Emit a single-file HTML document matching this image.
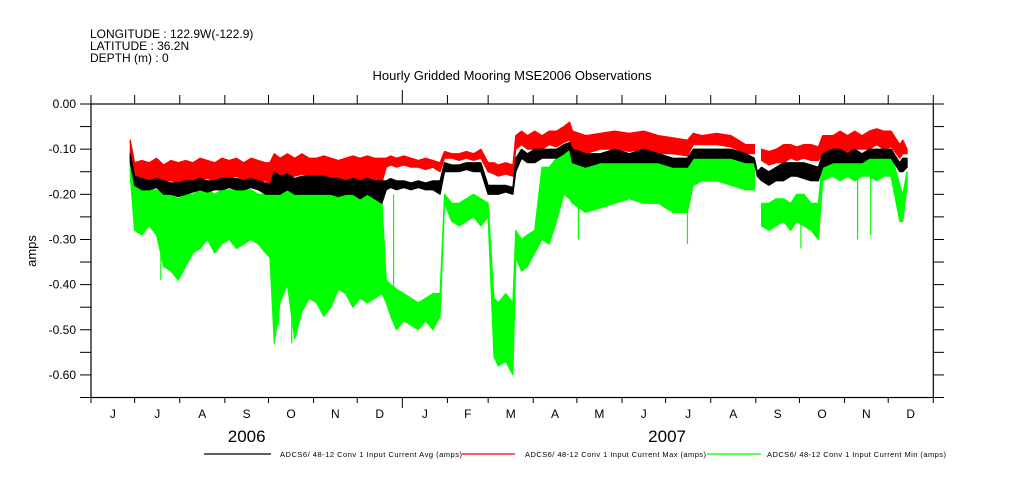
<!DOCTYPE html>
<html><head><meta charset="utf-8"><style>
html,body{margin:0;padding:0;background:#fff;}
svg{display:block;font-family:"Liberation Sans",sans-serif;}
</style></head><body>
<svg id="chart" width="1009" height="504" viewBox="0 0 1009 504" xmlns="http://www.w3.org/2000/svg">
<rect width="1009" height="504" fill="#fff"/>
<g font-size="12" fill="#000">
<text x="90" y="38">LONGITUDE : 122.9W(-122.9)</text>
<text x="90" y="50">LATITUDE : 36.2N</text>
<text x="90" y="62">DEPTH (m) : 0</text>
</g>
<text x="512" y="80" font-size="13" text-anchor="middle">Hourly Gridded Mooring MSE2006 Observations</text>
<text x="36" y="251" font-size="13" text-anchor="middle" transform="rotate(-90 36 251)">amps</text>
<g id="plot"></g>
<g id="axes"></g>
<g font-size="7.5">
<line x1="204" y1="454" x2="271" y2="454" stroke="#000" stroke-width="1.3"/>
<text x="280" y="457" textLength="182">ADCS6/ 48-12 Conv 1 Input Current Avg (amps)</text>
<line x1="462" y1="454" x2="515" y2="454" stroke="#f00" stroke-width="1.3"/>
<text x="525" y="457" textLength="181">ADCS6/ 48-12 Conv 1 Input Current Max (amps)</text>
<line x1="707" y1="454" x2="761" y2="454" stroke="#0f0" stroke-width="1.3"/>
<text x="767" y="457" textLength="179">ADCS6/ 48-12 Conv 1 Input Current Min (amps)</text>
</g>
</svg>
<script>
const days=[27,30,35,40,45,50,55,60,65,70,75,80,85,90,95,100,105,110,115,120,123,126,130,135,140,145,150,155,160,165,170,175,180,185,190,195,200,203,206,210,215,220,225,230,235,240,243,248,253,258,263,268,273,277,280,285,290,292,296,300,305,310,315,320,325,329,331,340,350,360,370,380,390,400,410,414,420,430,440,450,456,458,461,466,471,476,481,485,490,495,500,503,510,515,520,525,530,535,540,545,550,556,558,561];
const maxHi=[-0.08,-0.13,-0.125,-0.13,-0.12,-0.135,-0.125,-0.13,-0.125,-0.13,-0.12,-0.125,-0.13,-0.12,-0.125,-0.12,-0.13,-0.12,-0.125,-0.13,-0.13,-0.11,-0.12,-0.11,-0.12,-0.11,-0.12,-0.12,-0.115,-0.12,-0.125,-0.12,-0.115,-0.12,-0.115,-0.12,-0.12,-0.12,-0.115,-0.12,-0.115,-0.12,-0.125,-0.12,-0.125,-0.13,-0.105,-0.11,-0.11,-0.105,-0.11,-0.1,-0.13,-0.13,-0.135,-0.13,-0.135,-0.07,-0.06,-0.07,-0.06,-0.07,-0.06,-0.06,-0.05,-0.04,-0.06,-0.07,-0.065,-0.06,-0.065,-0.06,-0.07,-0.075,-0.08,-0.065,-0.07,-0.065,-0.07,-0.09,-0.09,null,-0.1,-0.105,-0.1,-0.09,-0.09,-0.095,-0.09,-0.09,-0.095,-0.07,-0.07,-0.06,-0.07,-0.06,-0.07,-0.06,-0.055,-0.06,-0.06,-0.09,-0.08,-0.1];
const maxLo=[-0.12,-0.16,-0.165,-0.17,-0.165,-0.17,-0.17,-0.175,-0.17,-0.17,-0.165,-0.165,-0.17,-0.165,-0.165,-0.16,-0.17,-0.165,-0.17,-0.17,-0.18,-0.15,-0.16,-0.16,-0.16,-0.155,-0.16,-0.165,-0.16,-0.165,-0.17,-0.17,-0.165,-0.17,-0.165,-0.17,-0.175,-0.14,-0.135,-0.14,-0.135,-0.14,-0.14,-0.145,-0.14,-0.15,-0.12,-0.12,-0.125,-0.12,-0.125,-0.12,-0.15,-0.155,-0.16,-0.155,-0.16,-0.1,-0.09,-0.1,-0.1,-0.1,-0.09,-0.095,-0.085,-0.08,-0.1,-0.11,-0.1,-0.1,-0.105,-0.1,-0.11,-0.11,-0.115,-0.09,-0.09,-0.09,-0.095,-0.11,-0.11,null,-0.125,-0.135,-0.13,-0.13,-0.12,-0.125,-0.12,-0.125,-0.125,-0.11,-0.1,-0.1,-0.11,-0.1,-0.1,-0.1,-0.09,-0.1,-0.095,-0.12,-0.11,-0.11];
const avgHi=[-0.11,-0.16,-0.165,-0.17,-0.165,-0.17,-0.175,-0.175,-0.17,-0.17,-0.165,-0.17,-0.17,-0.165,-0.165,-0.165,-0.17,-0.165,-0.17,-0.175,-0.18,-0.15,-0.16,-0.155,-0.165,-0.16,-0.16,-0.16,-0.16,-0.165,-0.165,-0.17,-0.165,-0.17,-0.165,-0.17,-0.17,-0.17,-0.165,-0.17,-0.17,-0.175,-0.17,-0.175,-0.17,-0.17,-0.13,-0.135,-0.135,-0.13,-0.13,-0.13,-0.18,-0.18,-0.18,-0.18,-0.185,-0.12,-0.1,-0.11,-0.1,-0.1,-0.1,-0.1,-0.09,-0.085,-0.1,-0.11,-0.11,-0.1,-0.11,-0.1,-0.11,-0.12,-0.12,-0.1,-0.1,-0.1,-0.1,-0.11,-0.12,-0.15,-0.14,-0.15,-0.14,-0.13,-0.13,-0.13,-0.13,-0.135,-0.14,-0.11,-0.1,-0.1,-0.11,-0.1,-0.11,-0.1,-0.1,-0.1,-0.1,-0.13,-0.12,-0.12];
const avgLo=[-0.13,-0.18,-0.19,-0.19,-0.185,-0.2,-0.2,-0.205,-0.2,-0.195,-0.19,-0.195,-0.19,-0.19,-0.185,-0.19,-0.19,-0.185,-0.19,-0.2,-0.2,-0.2,-0.2,-0.19,-0.2,-0.2,-0.2,-0.2,-0.2,-0.2,-0.205,-0.2,-0.2,-0.21,-0.2,-0.21,-0.22,-0.19,-0.185,-0.19,-0.185,-0.19,-0.185,-0.19,-0.19,-0.2,-0.15,-0.15,-0.15,-0.145,-0.15,-0.15,-0.2,-0.2,-0.2,-0.195,-0.2,-0.15,-0.12,-0.13,-0.13,-0.12,-0.12,-0.12,-0.11,-0.1,-0.13,-0.14,-0.13,-0.13,-0.13,-0.13,-0.13,-0.14,-0.14,-0.12,-0.12,-0.12,-0.12,-0.13,-0.13,-0.16,-0.17,-0.18,-0.17,-0.17,-0.16,-0.16,-0.165,-0.17,-0.17,-0.14,-0.13,-0.13,-0.13,-0.13,-0.13,-0.12,-0.12,-0.12,-0.12,-0.15,-0.15,-0.14];
const minHi=[-0.12,-0.17,-0.19,-0.19,-0.19,-0.2,-0.2,-0.21,-0.2,-0.2,-0.19,-0.19,-0.2,-0.19,-0.19,-0.19,-0.19,-0.19,-0.2,-0.2,-0.2,-0.15,-0.15,-0.16,-0.17,-0.17,-0.18,-0.19,-0.19,-0.2,-0.2,-0.2,-0.2,-0.2,-0.2,-0.21,-0.22,-0.39,-0.4,-0.41,-0.42,-0.43,-0.44,-0.43,-0.42,-0.42,-0.2,-0.22,-0.22,-0.21,-0.2,-0.21,-0.22,-0.43,-0.44,-0.42,-0.44,-0.28,-0.3,-0.29,-0.28,-0.14,-0.14,-0.12,-0.1,-0.09,-0.13,-0.14,-0.13,-0.13,-0.13,-0.12,-0.13,-0.14,-0.14,-0.1,-0.1,-0.1,-0.11,-0.13,-0.13,null,-0.22,-0.22,-0.21,-0.21,-0.22,-0.2,-0.2,-0.22,-0.22,-0.12,-0.11,-0.12,-0.11,-0.11,-0.12,-0.11,-0.1,-0.11,-0.11,-0.18,-0.2,-0.15];
const minLo=[-0.16,-0.28,-0.29,-0.27,-0.29,-0.36,-0.37,-0.39,-0.36,-0.33,-0.32,-0.3,-0.33,-0.31,-0.3,-0.32,-0.31,-0.3,-0.31,-0.33,-0.34,-0.53,-0.44,-0.4,-0.52,-0.46,-0.43,-0.44,-0.47,-0.45,-0.41,-0.42,-0.45,-0.43,-0.44,-0.43,-0.42,-0.44,-0.47,-0.5,-0.48,-0.49,-0.5,-0.48,-0.5,-0.47,-0.22,-0.26,-0.27,-0.26,-0.25,-0.27,-0.25,-0.56,-0.58,-0.57,-0.6,-0.34,-0.37,-0.36,-0.33,-0.3,-0.31,-0.26,-0.2,-0.21,-0.22,-0.24,-0.23,-0.22,-0.21,-0.22,-0.22,-0.24,-0.24,-0.18,-0.17,-0.17,-0.18,-0.19,-0.19,null,-0.27,-0.28,-0.27,-0.26,-0.28,-0.26,-0.27,-0.28,-0.3,-0.17,-0.16,-0.17,-0.16,-0.17,-0.16,-0.16,-0.17,-0.16,-0.16,-0.26,-0.26,-0.18];
const spikeDays=[48,126,129,138,142,208,335,410,488,527,536];
const spikeVals=[-0.39,-0.53,-0.49,-0.53,-0.48,-0.2,-0.3,-0.31,-0.32,-0.3,-0.29];
const yTicks=[0,-0.1,-0.2,-0.3,-0.4,-0.5,-0.6];
const yTickLabels=["0.00","-0.10","-0.20","-0.30","-0.40","-0.50","-0.60"];
const monthStarts=[0,30,61,92,122,153,183,214,245,273,304,334,365,395,426,457,487,518,548,579];
const monthLabels=["J","J","A","S","O","N","D","J","F","M","A","M","J","J","A","S","O","N","D"];
const yearLabels=["2006","2007"];
const yearCenters=[107,396];

const X0=91,X1=933.3,DAYS=579,Y0=104,Y1=397.5,VMIN=-0.65,VMAX=0;
const xs=d=>X0+(X1-X0)*d/DAYS;
const ys=v=>Y0+(Y1-Y0)*(VMAX-v)/(VMAX-VMIN);
const NS="http://www.w3.org/2000/svg";
const plot=document.getElementById('plot');
const axes=document.getElementById('axes');
function mk(tag,parent,attrs){const e=document.createElementNS(NS,tag);for(const k in attrs)e.setAttribute(k,attrs[k]);parent.appendChild(e);return e;}
function interp(arr,d){
  for(let i=0;i<days.length-1;i++){
    if(d>=days[i]&&d<=days[i+1]){
      const a=arr[i],b=arr[i+1];
      if(a===null) return b; if(b===null) return a;
      return a+(b-a)*(d-days[i])/(days[i+1]-days[i]);
    }
  }
  return arr[arr.length-1];
}

function band(hi,lo,color,name){
  let seg=[];
  const flush=()=>{
    if(seg.length>1){
      const top=seg.map(i=>xs(days[i]).toFixed(1)+','+ys(hi[i]).toFixed(1));
      const bot=seg.slice().reverse().map(i=>xs(days[i]).toFixed(1)+','+ys(lo[i]).toFixed(1));
      const p=mk('polygon',plot,{points:top.concat(bot).join(' '),fill:color,stroke:color,'stroke-width':'1.2','stroke-linejoin':'round'});
      
      
    }
    seg=[];
  };
  for(let i=0;i<days.length;i++){ if(hi[i]===null){flush();} else seg.push(i); }
  flush();
}
band(minHi,minLo,'#00ff00','series-min-band');
for(let i=0;i<spikeDays.length;i++){
  const top=interp(minHi,spikeDays[i]);
  const l=mk('line',plot,{x1:xs(spikeDays[i]),x2:xs(spikeDays[i]),y1:ys(Math.max(top,spikeVals[i])),y2:ys(Math.min(top,spikeVals[i])),stroke:'#00ff00','stroke-width':'1.2'});
  
  
}
band(maxHi,maxLo,'#ff0000','series-max-band');
band(avgHi,avgLo,'#000000','series-avg-band');
{
  const i=days.indexOf(458);
  const l=mk('polyline',plot,{points:[i-1,i,i+1].map(j=>xs(days[j])+','+ys((avgHi[j]+avgLo[j])/2)).join(' '),fill:'none',stroke:'#000','stroke-width':'1'});
  
  
}

const fr=mk('rect',axes,{x:X0,y:Y0,width:X1-X0,height:Y1-Y0,fill:'none',stroke:'#000','stroke-width':'1.2'});


for(let k=0;k<=13;k++){
  const y=ys(-0.05*k);
  const t1=mk('line',axes,{x1:80,x2:X0,y1:y,y2:y,stroke:'#000','stroke-width':'1'});
  
  
  const t2=mk('line',axes,{x1:X1,x2:944,y1:y,y2:y,stroke:'#000','stroke-width':'1'});
  
  
}
yTicks.forEach((v,i)=>{
  const t=mk('text',axes,{x:76,y:ys(v)+4,'font-size':'12','text-anchor':'end'});
  t.textContent=yTickLabels[i];
  
  
});
monthStarts.forEach((d,i)=>{
  const x=xs(d);
  const yr=(d===214);
  const a=mk('line',axes,{x1:x,x2:x,y1:yr?90:95,y2:Y0,stroke:'#000','stroke-width':'1'});
  
  
  const b=mk('line',axes,{x1:x,x2:x,y1:Y1,y2:yr?408:403,stroke:'#000','stroke-width':'1'});
  
  
});
monthLabels.forEach((m,i)=>{
  const t=mk('text',axes,{x:(xs(monthStarts[i])+xs(monthStarts[i+1]))/2,y:418,'font-size':'12','text-anchor':'middle'});
  t.textContent=m;
  
  
});
yearLabels.forEach((yl,i)=>{
  const t=mk('text',axes,{x:X0+(X1-X0)*yearCenters[i]/DAYS,y:442,'font-size':'17','text-anchor':'middle'});
  t.textContent=yl;
  
  
});
</script>
</body></html>
